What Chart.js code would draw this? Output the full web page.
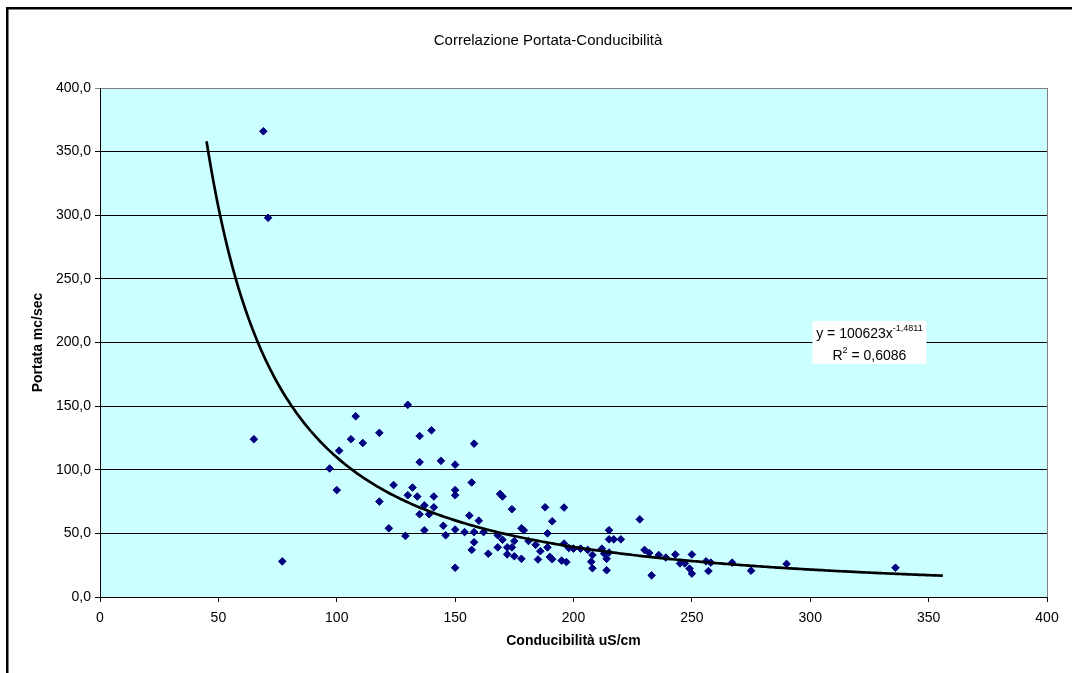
<!DOCTYPE html>
<html>
<head>
<meta charset="utf-8">
<script src="https://cdn.jsdelivr.net/npm/chart.js@4.4.1/dist/chart.umd.min.js"></script>
<style>
  html, body { margin: 0; padding: 0; background: #fff; }
  canvas { display: block; }
</style>
</head>
<body>
<canvas id="grafico" width="1072" height="673"></canvas>
<script>
// misure: conducibilità (uS/cm) e portata (mc/sec)
const conducibilita = [
  65, 69, 71, 77, 97, 100, 101, 106, 108, 111,
  118, 118, 122, 124, 129, 130, 130, 132, 134, 135,
  135, 135, 137, 137, 139, 140, 141, 141, 144, 145,
  146, 150, 150, 150, 150, 150, 154, 156, 157, 157,
  158, 158, 158, 160, 162, 164, 168, 168, 169, 170,
  170, 172, 172, 174, 174, 175, 175, 178, 179, 178,
  181, 184, 185, 186, 188, 189, 189, 190, 191, 191,
  196, 196, 195, 197, 198, 200, 203, 206, 208, 207.5,
  208, 212, 213, 214, 215, 214, 215, 215, 217, 220,
  228, 230, 232, 233, 236, 239, 243, 245, 247, 249,
  250, 250, 256, 257, 258, 267, 275, 290, 336
];
const portata = [
  124, 366, 298, 28, 101, 84, 115, 124, 142, 121,
  129, 75, 54, 88, 48, 151, 80, 86, 79, 126.5,
  106, 65, 72, 52.5, 65, 131, 79, 70.5, 107, 56,
  48.5, 104, 84, 80, 53, 23, 51, 64, 90, 37,
  120.5, 51, 43, 60, 51, 34, 48.5, 39, 81, 79,
  45, 39, 33.5, 69, 39, 44, 32, 54, 52.5, 30,
  44, 41, 29.5, 36, 70.5, 50, 39, 31.5, 59.5, 29.7,
  70.3, 42, 28.6, 27.5, 38.5, 38, 38, 37, 33, 27.7,
  22.6, 38, 34, 30, 35, 21, 52.5, 45.3, 45.3, 45.3,
  61, 37, 34.6, 17, 33, 31, 33.4, 26.4, 26.4, 22.3,
  18.4, 33.4, 28, 20.4, 27, 27, 20.7, 26, 23
];

// linea di tendenza potenza: y = a * x^b
const trendA = 100623;
const trendB = -1.4811;
const trendR2 = 0.6086;
const trendDa = 45;
const trendFino = 356;

const assiMin = 0;
const assiMax = 400;
const passoTick = 50;

const titolo = 'Correlazione Portata-Conducibilità';
const titoloX = 'Conducibilità uS/cm';
const titoloY = 'Portata mc/sec';

const puntiMisure = conducibilita.map((c, i) => ({ x: c, y: portata[i] }));
const puntiTrend = [];
for (let c = trendDa; c <= trendFino; c += 1) {
  puntiTrend.push({ x: c, y: trendA * Math.pow(c, trendB) });
}

const FONT = "'Liberation Sans', Arial, sans-serif";
Chart.defaults.font.family = FONT;
Chart.defaults.font.size = 14;
Chart.defaults.color = '#000';

const virgola = v => String(v).replace('.', ',');

// sfondo area del grafico, cornice esterna e titolo
const sfondo = {
  id: 'sfondo',
  beforeDraw(chart) {
    const { ctx, chartArea: a } = chart;
    ctx.save();
    ctx.fillStyle = '#ccffff';
    ctx.fillRect(a.left, a.top, a.right - a.left, a.bottom - a.top);
    ctx.strokeStyle = '#808080';
    ctx.lineWidth = 1;
    ctx.strokeRect(a.left + 0.5, a.top + 0.5, a.right - a.left, a.bottom - a.top);
    ctx.fillStyle = '#000';
    ctx.fillRect(6, 7, 2.5, chart.height);
    ctx.fillRect(6, 7, chart.width, 2.5);
    ctx.font = '15px ' + FONT;
    ctx.textAlign = 'center';
    ctx.textBaseline = 'middle';
    ctx.fillText(titolo, 548, 41);
    ctx.restore();
  }
};

// riquadro con equazione e R²
const equazione = {
  id: 'equazione',
  afterDatasetsDraw(chart) {
    const { ctx, scales: { x, y } } = chart;
    const cx = x.getPixelForValue(325);
    const top = y.getPixelForValue(217);
    ctx.save();
    ctx.fillStyle = '#fff';
    ctx.fillRect(cx - 57, top, 114, 43);
    ctx.fillStyle = '#000';
    ctx.textBaseline = 'alphabetic';
    ctx.textAlign = 'left';

    const riga1 = 'y = ' + trendA + 'x';
    const esp1 = virgola(trendB);
    ctx.font = '14px ' + FONT;
    const w1 = ctx.measureText(riga1).width;
    ctx.font = '9px ' + FONT;
    const we1 = ctx.measureText(esp1).width;
    let sx = cx - (w1 + we1) / 2;
    ctx.font = '14px ' + FONT;
    ctx.fillText(riga1, sx, top + 17);
    ctx.font = '9px ' + FONT;
    ctx.fillText(esp1, sx + w1, top + 10);

    const r = 'R';
    const resto = ' = ' + virgola(trendR2);
    ctx.font = '14px ' + FONT;
    const wr = ctx.measureText(r).width;
    const wresto = ctx.measureText(resto).width;
    ctx.font = '9px ' + FONT;
    const we2 = ctx.measureText('2').width;
    sx = cx - (wr + we2 + wresto) / 2;
    ctx.font = '14px ' + FONT;
    ctx.fillText(r, sx, top + 39);
    ctx.fillText(resto, sx + wr + we2, top + 39);
    ctx.font = '9px ' + FONT;
    ctx.fillText('2', sx + wr, top + 32);
    ctx.restore();
  }
};

new Chart(document.getElementById('grafico'), {
  type: 'scatter',
  data: {
    datasets: [
      {
        type: 'line',
        label: 'Potenza',
        data: puntiTrend,
        borderColor: '#000',
        borderWidth: 2.7,
        pointRadius: 0,
        fill: false,
        tension: 0
      },
      {
        label: 'Portata',
        data: puntiMisure,
        pointStyle: 'rectRot',
        pointRadius: 3.8,
        backgroundColor: '#000080',
        borderColor: '#000080',
        borderWidth: 1
      }
    ]
  },
  options: {
    responsive: false,
    animation: false,
    layout: { padding: { top: 88, right: 25, left: 0, bottom: 0 } },
    plugins: {
      legend: { display: false },
      tooltip: { enabled: false }
    },
    scales: {
      x: {
        type: 'linear',
        min: assiMin,
        max: assiMax,
        afterFit: s => { s.height = 76; },
        ticks: { stepSize: passoTick, padding: 8, maxRotation: 0 },
        grid: { drawOnChartArea: false, drawTicks: true, tickLength: 5, color: '#000' },
        border: { color: '#000', width: 1 },
        title: {
          display: true,
          text: titoloX,
          font: { size: 14, weight: 'bold' },
          padding: { top: 0, bottom: 23 }
        }
      },
      y: {
        type: 'linear',
        min: assiMin,
        max: assiMax,
        afterFit: s => { s.width = 100; },
        ticks: {
          stepSize: passoTick,
          padding: 4,
          callback: v => v.toFixed(1).replace('.', ',')
        },
        grid: {
          tickLength: 5,
          color: c => (c.tick && c.tick.value === assiMax ? '#808080' : '#000')
        },
        border: { color: '#000', width: 1 },
        title: {
          display: true,
          text: titoloY,
          font: { size: 14, weight: 'bold' },
          padding: { top: 30, bottom: 0 }
        }
      }
    }
  },
  plugins: [sfondo, equazione]
});
</script>
</body>
</html>
